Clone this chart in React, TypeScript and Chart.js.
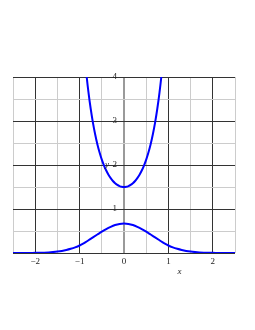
import React, { useEffect, useRef } from "react";
import { Chart, registerables } from "chart.js";

Chart.register(...registerables);

const lowerX = [
  -2.5, -2.4, -2.3, -2.2, -2.1, -2.0, -1.9, -1.8, -1.7, -1.6, -1.5, -1.4, -1.3,
  -1.2, -1.1, -1.0, -0.9, -0.8, -0.7, -0.6, -0.5, -0.4, -0.3, -0.2, -0.1, 0,
  0.1, 0.2, 0.3, 0.4, 0.5, 0.6, 0.7, 0.8, 0.9, 1.0, 1.1, 1.2, 1.3, 1.4, 1.5,
  1.6, 1.7, 1.8, 1.9, 2.0, 2.1, 2.2, 2.3, 2.4, 2.5,
];
const lowerY = [
  0, 0, 0, 0.001, 0.002, 0.003, 0.005, 0.008, 0.013, 0.021, 0.032, 0.047, 0.068,
  0.095, 0.128, 0.17, 0.225, 0.29, 0.355, 0.42, 0.485, 0.545, 0.595, 0.635, 0.66,
  0.67, 0.66, 0.635, 0.595, 0.545, 0.485, 0.42, 0.355, 0.29, 0.225, 0.17, 0.128,
  0.095, 0.068, 0.047, 0.032, 0.021, 0.013, 0.008, 0.005, 0.003, 0.002, 0.001, 0,
  0, 0,
];
const upperX = [
  -0.9, -0.85, -0.8, -0.75, -0.7, -0.65, -0.6, -0.55, -0.5, -0.45, -0.4, -0.35,
  -0.3, -0.25, -0.2, -0.15, -0.1, -0.05, 0, 0.05, 0.1, 0.15, 0.2, 0.25, 0.3, 0.35,
  0.4, 0.45, 0.5, 0.55, 0.6, 0.65, 0.7, 0.75, 0.8, 0.85, 0.9,
];
const upperY = [
  4.62, 4.095, 3.651, 3.278, 2.964, 2.699, 2.474, 2.284, 2.123, 1.988, 1.874,
  1.779, 1.7, 1.636, 1.586, 1.548, 1.521, 1.505, 1.5, 1.505, 1.521, 1.548, 1.586,
  1.636, 1.7, 1.779, 1.874, 1.988, 2.123, 2.284, 2.474, 2.699, 2.964, 3.278,
  3.651, 4.095, 4.62,
];
const xTickValues = [-2, -1, 0, 1, 2];
const xTickLabels = ["\u22122", "\u22121", "0", "1", "2"];
const yTickValues = [1, 2, 3, 4];
const yTickLabels = ["1", "2", "3", "4"];
const xTitle = "x";
const yTitle = "y";

const isInt = (v: number) => Math.abs(v - Math.round(v)) < 1e-6;

const gridColor = (v: number) => {
  if (Math.abs(v) < 1e-6) return "#9a9a9a";
  return isInt(v) ? "#333333" : "#cccccc";
};

const labelsPlugin = {
  id: "customLabels",
  afterDraw(chart: any) {
    const { ctx, chartArea } = chart;
    const xs = chart.scales.x;
    const ys = chart.scales.y;
    ctx.save();
    ctx.fillStyle = "#222222";
    ctx.font = "9px 'Liberation Serif'";
    ctx.textAlign = "center";
    ctx.textBaseline = "middle";
    xTickValues.forEach((v, i) => {
      ctx.fillText(xTickLabels[i], xs.getPixelForValue(v), chartArea.bottom + 9);
    });
    const x0 = xs.getPixelForValue(0);
    ctx.textAlign = "right";
    yTickValues.forEach((v, i) => {
      ctx.fillText(yTickLabels[i], x0 - 7, ys.getPixelForValue(v));
    });
    ctx.font = "italic 9px 'Liberation Serif'";
    ctx.textAlign = "center";
    ctx.fillText(yTitle, x0 - 17, ys.getPixelForValue(2));
    ctx.fillText(xTitle, xs.getPixelForValue(1.25), chartArea.bottom + 19);
    ctx.restore();
  },
};

export default function App() {
  const ref = useRef<HTMLCanvasElement | null>(null);
  useEffect(() => {
    if (!ref.current) return;
    const chart = new Chart(ref.current, {
      type: "line",
      data: {
        datasets: [
          {
            data: lowerX.map((x, i) => ({ x, y: lowerY[i] })),
            borderColor: "#0000ff",
            borderWidth: 2,
            pointRadius: 0,
            cubicInterpolationMode: "monotone",
            fill: false,
          },
          {
            data: upperX.map((x, i) => ({ x, y: upperY[i] })),
            borderColor: "#0000ff",
            borderWidth: 2,
            pointRadius: 0,
            cubicInterpolationMode: "monotone",
            fill: false,
          },
        ],
      },
      options: {
        animation: false,
        responsive: false,
        events: [],
        layout: { padding: { left: 13, right: 20, top: 77, bottom: 77 } },
        plugins: { legend: { display: false }, tooltip: { enabled: false } },
        scales: {
          x: {
            type: "linear",
            min: -2.5,
            max: 2.5,
            ticks: { stepSize: 0.5, display: false },
            border: { display: false },
            grid: {
              drawTicks: false,
              color: (c: any) => gridColor(c.tick.value),
              lineWidth: (c: any) => (Math.abs(c.tick.value) < 1e-6 ? 2 : 1),
            },
          },
          y: {
            type: "linear",
            min: 0,
            max: 4,
            ticks: { stepSize: 0.5, display: false },
            border: { display: false },
            grid: {
              drawTicks: false,
              color: (c: any) => (Math.abs(c.tick.value) < 1e-6 ? "#333333" : gridColor(c.tick.value)),
            },
          },
        },
      },
      plugins: [labelsPlugin],
    } as any);
    return () => chart.destroy();
  }, []);
  return (
    <canvas
      ref={ref}
      width={255}
      height={330}
      style={{ position: "fixed", left: 0, top: 0, width: 255, height: 330 }}
    />
  );
}
